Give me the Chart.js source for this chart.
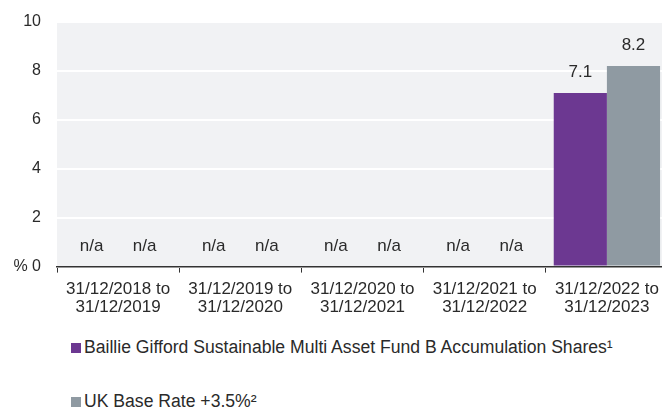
<!DOCTYPE html>
<html>
<head>
<meta charset="utf-8">
<script src="https://cdn.jsdelivr.net/npm/chart.js@4.4.0/dist/chart.umd.min.js"></script>
<style>
  html, body { margin: 0; padding: 0; background: #fff; overflow: hidden; }
  body { width: 662px; height: 410px; position: relative; font-family: "Liberation Sans", Arial, sans-serif; color: #2a2a2a; }
  #wrap { position: absolute; left: 0; top: 0; width: 668px; height: 324px; }
  .leg { position: absolute; left: 71px; font-size: 17.6px; line-height: 20px; white-space: nowrap; }
  .leg i { display: inline-block; width: 10px; height: 10px; margin-right: 3px; vertical-align: 0px; }
</style>
</head>
<body>
<div id="wrap"><canvas id="chart"></canvas></div>
<div id="legend"></div>
<script>
// categorias (dos lineas cada una)
const categorias = [
    ["31/12/2018 to", "31/12/2019"],
    ["31/12/2019 to", "31/12/2020"],
    ["31/12/2020 to", "31/12/2021"],
    ["31/12/2021 to", "31/12/2022"],
    ["31/12/2022 to", "31/12/2023"]
];
const nombreFondo = "Baillie Gifford Sustainable Multi Asset Fund B Accumulation Shares\u00b9";
const nombreRef = "UK Base Rate +3.5%\u00b2";
const fondo = [null, null, null, null, 7.1];
const referencia = [null, null, null, null, 8.2];
const ticksY = [0, 2, 4, 6, 8, 10];

const colorFondo = "#6c3891";
const colorRef = "#8f9aa2";
const colorTexto = "#2a2a2a";

// fondo gris del area
const fondoArea = {
    id: "fondoArea",
    beforeDraw(chart) {
        const a = chart.chartArea;
        chart.ctx.save();
        chart.ctx.fillStyle = "#f1f2f4";
        chart.ctx.fillRect(a.left, a.top, a.right - a.left, a.bottom - a.top);
        chart.ctx.restore();
    }
};

// etiquetas de valores y n/a
const etiquetas = {
    id: "etiquetas",
    afterDatasetsDraw(chart) {
        const ctx = chart.ctx;
        const y0 = chart.scales.y.getPixelForValue(0);
        ctx.save();
        ctx.font = "17px 'Liberation Sans', Arial, sans-serif";
        ctx.fillStyle = colorTexto;
        ctx.textAlign = "center";
        chart.data.datasets.forEach((ds, di) => {
            chart.getDatasetMeta(di).data.forEach((el, i) => {
                const v = ds.data[i];
                if (v === null) {
                    ctx.textBaseline = "middle";
                    ctx.fillText("n/a", el.x, y0 - 20);
                } else {
                    ctx.textBaseline = "bottom";
                    ctx.fillText(v.toFixed(1), el.x, el.y - 12);
                }
            });
        });
        ctx.restore();
    }
};

new Chart(document.getElementById("chart"), {
    type: "bar",
    data: {
        labels: categorias,
        datasets: [
            { label: nombreFondo, data: fondo, backgroundColor: colorFondo },
            { label: nombreRef, data: referencia, backgroundColor: colorRef }
        ]
    },
    options: {
        responsive: true,
        maintainAspectRatio: false,
        animation: false,
        layout: { padding: { top: 22, left: 0, right: 0, bottom: 0 } },
        categoryPercentage: 0.87,
        barPercentage: 1,
        plugins: { legend: { display: false }, tooltip: { enabled: false } },
        scales: {
            x: {
                grid: { offset: true, drawOnChartArea: false, drawTicks: true, tickLength: 6, color: "#333", lineWidth: 1 },
                border: { display: true, color: "#333", width: 1.5 },
                ticks: {
                    color: colorTexto,
                    padding: 7,
                    maxRotation: 0,
                    autoSkip: false,
                    font: { family: "'Liberation Sans', Arial, sans-serif", size: 17, lineHeight: 1.1 }
                }
            },
            y: {
                min: 0,
                max: 10,
                afterBuildTicks(scale) { scale.ticks = ticksY.map(v => ({ value: v })); },
                afterFit(scale) { scale.width = 57; },
                grid: { color: "#ffffff", lineWidth: 2, drawTicks: false },
                border: { display: false },
                ticks: {
                    color: colorTexto,
                    padding: 16,
                    font: { family: "'Liberation Sans', Arial, sans-serif", size: 16, lineHeight: 0.75 },
                    callback: v => (v === 0 ? "% 0" : v)
                }
            }
        }
    },
    plugins: [fondoArea, etiquetas]
});

// leyenda
const leyenda = document.getElementById("legend");
[[nombreFondo, colorFondo, 337], [nombreRef, colorRef, 391]].forEach(([txt, col, top]) => {
    const d = document.createElement("div");
    d.className = "leg";
    d.style.top = top + "px";
    d.innerHTML = `<i style="background:${col}"></i>`;
    d.appendChild(document.createTextNode(txt));
    leyenda.appendChild(d);
});
</script>
</body>
</html>
